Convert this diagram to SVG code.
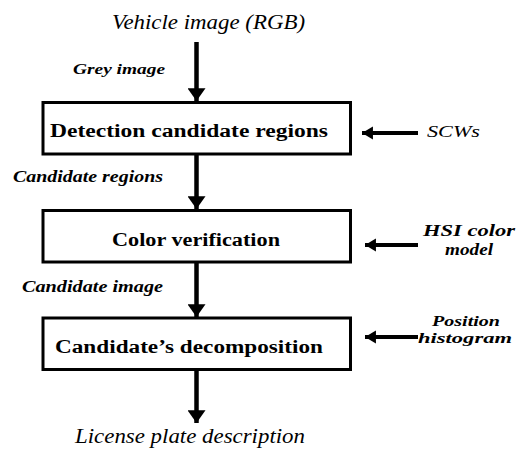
<svg xmlns="http://www.w3.org/2000/svg" width="523" height="452" viewBox="0 0 523 452">
<defs>
<marker id="ah" markerUnits="userSpaceOnUse" markerWidth="18" markerHeight="18" refX="12" refY="8.5" orient="auto" viewBox="0 0 13 17">
<path d="M0,0 L12,8.5 L0,17 Z" fill="#000"/>
</marker>
<marker id="ahs" markerUnits="userSpaceOnUse" markerWidth="12" markerHeight="14" refX="10" refY="6" orient="auto" viewBox="0 0 11 12">
<path d="M0,0 L10,6 L0,12 Z" fill="#000"/>
</marker>
</defs>
<rect width="523" height="452" fill="#fff"/>
<g id="connectors" stroke="#000" stroke-width="4.5" fill="none">
<line x1="196.5" y1="42" x2="196.5" y2="101" marker-end="url(#ah)"/>
<line x1="196.5" y1="155" x2="196.5" y2="209" marker-end="url(#ah)"/>
<line x1="196.5" y1="263" x2="196.5" y2="317" marker-end="url(#ah)"/>
<line x1="196.5" y1="371" x2="196.5" y2="423" marker-end="url(#ah)"/>
<line x1="418" y1="133" x2="362" y2="133" stroke-width="4" marker-end="url(#ahs)"/>
<line x1="418" y1="245" x2="365" y2="245" stroke-width="4" marker-end="url(#ahs)"/>
<line x1="418" y1="337" x2="365" y2="337" stroke-width="4" marker-end="url(#ahs)"/>
</g>
<g id="input">
<text style="font-family:'Liberation Serif','Times New Roman',serif;font-style:italic;font-size:21px" x="112" y="29" textLength="193" lengthAdjust="spacingAndGlyphs">Vehicle image (RGB)</text>
</g>
<g id="label-grey">
<text style="font-family:'Liberation Serif','Times New Roman',serif;font-style:italic;font-weight:bold;font-size:15px" x="73" y="74" textLength="92" lengthAdjust="spacingAndGlyphs">Grey image</text>
</g>
<g id="node-detection">
<rect x="43" y="102.5" width="307.5" height="51.5" fill="#fff" stroke="#000" stroke-width="3"/>
<text style="font-family:'Liberation Serif','Times New Roman',serif;font-weight:bold;font-size:18px" x="50" y="137" textLength="278" lengthAdjust="spacingAndGlyphs">Detection candidate regions</text>
</g>
<g id="label-scws">
<text style="font-family:'Liberation Serif','Times New Roman',serif;font-style:italic;font-size:16px" x="427" y="137" textLength="53" lengthAdjust="spacingAndGlyphs">SCWs</text>
</g>
<g id="label-candidate-regions">
<text style="font-family:'Liberation Serif','Times New Roman',serif;font-style:italic;font-weight:bold;font-size:16px" x="13" y="182" textLength="150" lengthAdjust="spacingAndGlyphs">Candidate regions</text>
</g>
<g id="node-color">
<rect x="43" y="210.5" width="307.5" height="51.5" fill="#fff" stroke="#000" stroke-width="3"/>
<text style="font-family:'Liberation Serif','Times New Roman',serif;font-weight:bold;font-size:18px" x="112" y="245.5" textLength="168" lengthAdjust="spacingAndGlyphs">Color verification</text>
</g>
<g id="label-hsi">
<text style="font-family:'Liberation Serif','Times New Roman',serif;font-style:italic;font-weight:bold;font-size:16px" x="423" y="235.5" textLength="92" lengthAdjust="spacingAndGlyphs">HSI color</text>
<text style="font-family:'Liberation Serif','Times New Roman',serif;font-style:italic;font-weight:bold;font-size:16px" x="445" y="254.5" textLength="48" lengthAdjust="spacingAndGlyphs">model</text>
</g>
<g id="label-candidate-image">
<text style="font-family:'Liberation Serif','Times New Roman',serif;font-style:italic;font-weight:bold;font-size:16px" x="22" y="292" textLength="141" lengthAdjust="spacingAndGlyphs">Candidate image</text>
</g>
<g id="node-decomposition">
<rect x="43" y="318" width="307.5" height="51.5" fill="#fff" stroke="#000" stroke-width="3"/>
<text style="font-family:'Liberation Serif','Times New Roman',serif;font-weight:bold;font-size:18px" x="55" y="352.5" textLength="268" lengthAdjust="spacingAndGlyphs">Candidate&#8217;s decomposition</text>
</g>
<g id="label-position">
<text style="font-family:'Liberation Serif','Times New Roman',serif;font-style:italic;font-weight:bold;font-size:15px" x="432" y="325.5" textLength="68" lengthAdjust="spacingAndGlyphs">Position</text>
<text style="font-family:'Liberation Serif','Times New Roman',serif;font-style:italic;font-weight:bold;font-size:15px" x="418" y="342.5" textLength="94" lengthAdjust="spacingAndGlyphs">histogram</text>
</g>
<g id="output">
<text style="font-family:'Liberation Serif','Times New Roman',serif;font-style:italic;font-size:21px" x="75" y="443" textLength="230" lengthAdjust="spacingAndGlyphs">License plate description</text>
</g>
</svg>
